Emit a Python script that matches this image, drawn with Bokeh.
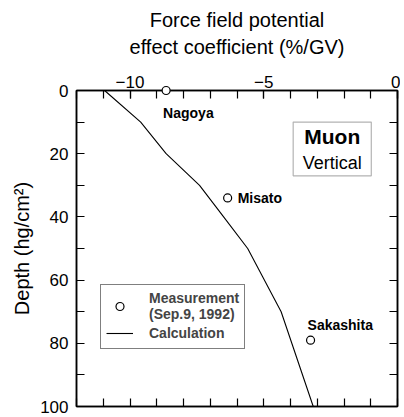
from bokeh.plotting import figure
from bokeh.models import (Range1d, LinearAxis, SingleIntervalTicker, FixedTicker, Label,
                          BoxAnnotation, Legend, LegendItem, ColumnDataSource)
from bokeh.core.properties import value
from bokeh.embed import file_html
from bokeh.resources import INLINE

# ---- data ----
station = ["Nagoya", "Misato", "Sakashita"]
meas_coef = [-8.65, -6.35, -3.25]
meas_depth = [0, 34, 79]

calc_depth = [0, 10, 20, 30, 40, 50, 70, 100]
calc_coef = [-10.95, -9.6, -8.65, -7.4, -6.5, -5.6, -4.35, -3.15]

x_minor_ticks = list(range(-12, 1))
y_minor_ticks = list(range(0, 101, 10))

FONT = "Liberation Sans"

p = figure(width=400, height=416, output_backend="svg", toolbar_location=None,
           x_range=Range1d(-12, 0), y_range=Range1d(100, 0),
           x_axis_location="above",
           min_border_left=76, min_border_top=90, min_border_right=3, min_border_bottom=10,
           background_fill_color="white", border_fill_color="white")
p.xgrid.grid_line_color = None
p.ygrid.grid_line_color = None
p.outline_line_color = "black"
p.outline_line_width = 1.5

def base_style(ax):
    ax.major_tick_out = 0
    ax.minor_tick_out = 0
    ax.minor_tick_in = 8
    ax.axis_line_width = 1.5
    ax.axis_line_color = "black"
    ax.major_tick_line_width = 1.2
    ax.minor_tick_line_width = 1.2
    ax.major_tick_line_color = "black"
    ax.minor_tick_line_color = "black"
    ax.major_label_text_font = FONT
    ax.major_label_text_color = "black"
    ax.major_label_text_font_size = "17px"

top = p.xaxis[0]
base_style(top)
top.ticker = SingleIntervalTicker(interval=5, num_minor_ticks=5)
top.major_tick_in = 8
top.major_label_standoff = 3
top.axis_label = "Force field potential\neffect coefficient (%/GV)"
top.axis_label_text_font = FONT
top.axis_label_text_font_size = "20px"
top.axis_label_text_font_style = "normal"
top.axis_label_text_color = "black"
top.axis_label_standoff = 15

left = p.yaxis[0]
base_style(left)
left.ticker = SingleIntervalTicker(interval=20, num_minor_ticks=2)
left.major_tick_in = 0
left.major_label_standoff = 8
left.axis_label = "Depth (hg/cm²)"
left.axis_label_text_font = FONT
left.axis_label_text_font_size = "20px"
left.axis_label_text_font_style = "normal"
left.axis_label_text_color = "black"
left.axis_label_standoff = 4

bx = LinearAxis(ticker=FixedTicker(ticks=[], minor_ticks=x_minor_ticks))
base_style(bx)
bx.major_label_standoff = 0
p.add_layout(bx, "below")

ry = LinearAxis(ticker=FixedTicker(ticks=[], minor_ticks=y_minor_ticks))
base_style(ry)
ry.major_label_standoff = 0
p.add_layout(ry, "right")

# calculation curve
ln = p.line(calc_coef, calc_depth, line_color="black", line_width=1.1)

# measurements
src = ColumnDataSource(dict(x=meas_coef, y=meas_depth, name=station,
                            dx=[-3, 10, -3], dy=[22, 0, -15]))
sc = p.scatter("x", "y", source=src, marker="circle", size=8, fill_color="white",
               line_color="black", line_width=1.2, level="overlay")
p.text("x", "y", text="name", source=src, x_offset="dx", y_offset="dy",
       text_font=value(FONT), text_font_style="bold", text_font_size="14px",
       text_baseline="middle", text_align="left", text_color="black")

# Muon / Vertical box
p.add_layout(BoxAnnotation(left=-3.9, right=-0.98, top=10, bottom=27,
                           fill_color="white", fill_alpha=1, line_color="black",
                           line_width=1.2))
p.add_layout(Label(x=-2.44, y=14.4, text="Muon", text_font=FONT, text_font_size="21px",
                   text_font_style="bold", text_align="center", text_baseline="middle",
                   text_color="black"))
p.add_layout(Label(x=-2.44, y=22.8, text="Vertical", text_font=FONT, text_font_size="18px",
                   text_align="center", text_baseline="middle", text_color="black"))

legend = Legend(items=[LegendItem(label="Measurement\n(Sep.9, 1992)", renderers=[sc]),
                       LegendItem(label="Calculation", renderers=[ln])],
                location=(24, 57), orientation="vertical")
legend.border_line_color = "black"
legend.border_line_width = 1.2
legend.background_fill_color = "white"
legend.background_fill_alpha = 1
legend.label_text_font = FONT
legend.label_text_font_style = "bold"
legend.label_text_font_size = "14px"
legend.label_text_line_height = 0.95
legend.glyph_width = 27
legend.glyph_height = 20
legend.label_standoff = 16
legend.padding = 5
legend.spacing = 1
legend.margin = 0
legend.label_height = 14
p.add_layout(legend)

open("out.html", "w").write(file_html(p, INLINE))
